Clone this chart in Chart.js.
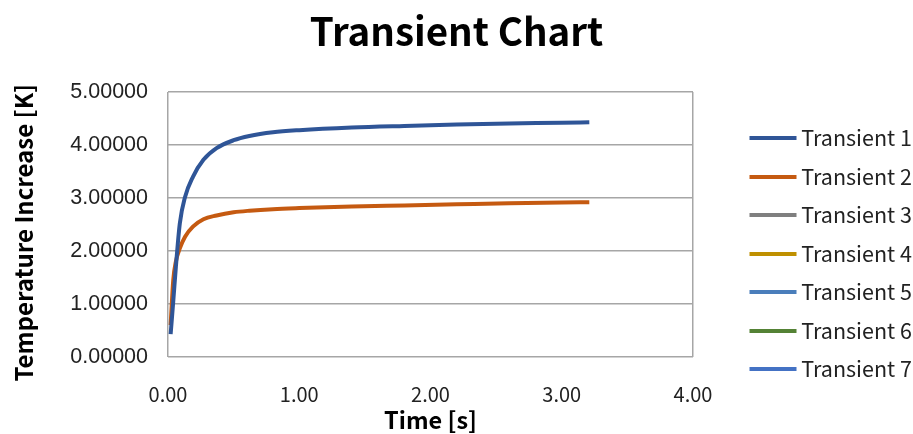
<!DOCTYPE html>
<html>
<head>
<meta charset="utf-8">
<script src="https://cdn.jsdelivr.net/npm/chart.js@4/dist/chart.umd.min.js"></script>
<style>
html,body{margin:0;padding:0;background:#fff;}
#wrap{width:913px;height:434px;position:relative;}
</style>
</head>
<body>
<div id="wrap"><canvas id="c" width="913" height="434"></canvas></div>
<script>
const timeValues = [0.02, 0.04, 0.06, 0.09, 0.13, 0.19, 0.27, 0.37, 0.50, 0.62, 0.80, 1.00, 1.40, 1.80, 2.20, 2.60, 3.00, 3.21];
const transient1 = [0.43, 1.05, 1.70, 2.52, 3.02, 3.40, 3.72, 3.94, 4.09, 4.17, 4.24, 4.28, 4.33, 4.36, 4.385, 4.405, 4.42, 4.43];
const transient2 = [0.60, 1.45, 1.80, 2.05, 2.27, 2.46, 2.60, 2.67, 2.73, 2.76, 2.79, 2.81, 2.84, 2.86, 2.88, 2.90, 2.915, 2.92];
const seriesNames = ['Transient 1','Transient 2','Transient 3','Transient 4','Transient 5','Transient 6','Transient 7'];
const seriesColors = ['#2F5597','#C55A11','#7F7F7F','#BF9000','#4A7EBB','#548235','#4472C4'];
const seriesValues = [transient1, transient2, [], [], [], [], []];
const xTicks = [0, 1, 2, 3, 4];
const yTicks = [0, 1, 2, 3, 4, 5];

const cjk = '"Noto Sans CJK SC", "Noto Sans", sans-serif';

// legend line swatch: 47px line, offset so text sits close after it
function swatch(color) {
  const c = document.createElement('canvas');
  c.width = 54; c.height = 4;
  const g = c.getContext('2d');
  g.fillStyle = color;
  g.fillRect(6.5, 0, 47, 4);
  return c;
}

const datasets = seriesNames.map((name, i) => ({
  label: name,
  data: seriesValues[i].map((v, j) => ({x: timeValues[j], y: v})),
  borderColor: seriesColors[i],
  backgroundColor: seriesColors[i],
  borderWidth: 4,
  pointRadius: 0,
  pointStyle: swatch(seriesColors[i]),
  showLine: true,
  fill: false,
  cubicInterpolationMode: 'monotone',
  yAxisID: 'y'
}));

new Chart(document.getElementById('c'), {
  type: 'scatter',
  data: { datasets },
  options: {
    responsive: false,
    animation: false,
    layout: { padding: { left: 0, right: 0, top: 0, bottom: 0 } },
    plugins: {
      title: {
        display: true,
        text: 'Transient Chart',
        color: '#000',
        font: { family: cjk, size: 38.5, weight: 'bold' },
        padding: { top: 8, bottom: 37.8 }
      },
      legend: {
        position: 'right',
        maxWidth: 180.5,
        title: {
          display: true,
          text: ' ',
          font: { size: 10 },
          padding: { top: 30.5, bottom: 30.5 }
        },
        labels: {
          usePointStyle: true,
          pointStyleWidth: 41,
          boxHeight: 21.5,
          color: '#222',
          font: { family: cjk, size: 21.5 },
          padding: 17
        }
      },
      tooltip: { enabled: false }
    },
    scales: {
      x: {
        type: 'linear',
        min: 0, max: 4,
        afterBuildTicks: (s) => { s.ticks = xTicks.map(v => ({value: v})); },
        ticks: {
          color: '#222',
          font: { family: cjk, size: 20 },
          padding: 25,
          callback: (v) => Number(v).toFixed(2)
        },
        grid: {
          drawTicks: false,
          color: (ctx) => (ctx.tick && (ctx.tick.value === 0 || ctx.tick.value === 4)) ? '#A6A6A6' : 'rgba(0,0,0,0)',
          lineWidth: 1.5
        },
        border: { display: false },
        title: {
          display: true,
          text: 'Time [s]',
          color: '#000',
          font: { family: cjk, size: 23.5, weight: 'bold' },
          padding: { top: 0, bottom: 0 }
        },
        afterFit: (s) => { s.height = 77; }
      },
      y: {
        position: 'left',
        min: 0, max: 5,
        afterBuildTicks: (s) => { s.ticks = yTicks.map(v => ({value: v})); },
        ticks: {
          color: '#222',
          font: { family: '"Liberation Sans", Arial, sans-serif', size: 21.5 },
          padding: 20,
          callback: (v) => Number(v).toFixed(5)
        },
        grid: { drawTicks: false, color: '#A6A6A6', lineWidth: 1.5 },
        border: { display: false },
        title: {
          display: true,
          text: 'Temperature Increase [K]\u00A0\u00A0\u00A0',
          color: '#000',
          font: { family: cjk, size: 24, weight: 'bold' },
          padding: { top: 9, bottom: 0 }
        },
        afterFit: (s) => { s.width = 168; }
      },
      yGap: {
        position: 'right',
        min: 0, max: 5,
        display: true,
        ticks: { display: false },
        grid: { display: false, drawTicks: false },
        border: { display: false },
        title: { display: false },
        afterFit: (s) => { s.width = 39.5; }
      }
    }
  }
});
</script>
</body>
</html>
